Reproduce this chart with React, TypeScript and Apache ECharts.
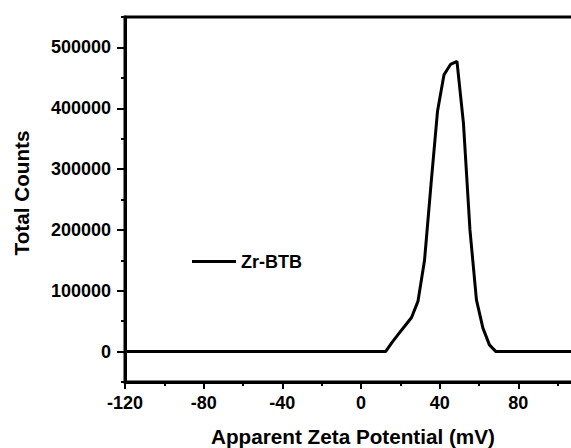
import React, { useEffect, useRef } from "react";
import * as echarts from "echarts";

const zetaMv = [-120, 12.5, 15.8, 19.1, 22.4, 25.7, 29.0, 32.3, 35.6, 38.9, 42.2, 45.5, 48.8, 52.1, 55.4, 58.7, 62.0, 65.3, 68.6, 120];
const totalCounts = [0, 0, 15000, 29000, 42500, 56000, 83000, 150000, 275000, 395000, 455000, 472000, 477000, 375000, 200000, 85000, 38500, 11000, 0, 0];
const seriesName = "Zr-BTB";
const xTitle = "Apparent Zeta Potential (mV)";
const yTitle = "Total Counts";

const FONT = "'Liberation Sans', Arial, sans-serif";

// main plot frame: y from -50000 (bottom) to 550000 (top)
const G_LEFT = 125;
const G_TOP = 17;
const G_BOTTOM = 66;
const G_WIDTH = 472;
const H = 448;
const PX_PER_UNIT = (H - G_TOP - G_BOTTOM) / 600000;

export default function App() {
  const ref = useRef<HTMLDivElement>(null);
  useEffect(() => {
    if (!ref.current) return;
    const chart = echarts.init(ref.current, null, { renderer: "svg" });
    const data = zetaMv.map((x, i) => [x, totalCounts[i]]);
    const tickLine = { color: "#000", width: 2 };
    chart.setOption({
      animation: false,
      backgroundColor: "#fff",
      grid: [
        {
          left: G_LEFT,
          top: G_TOP,
          width: G_WIDTH,
          bottom: G_BOTTOM,
          outerBoundsMode: "none",
          containLabel: false,
          show: true,
          borderColor: "#000",
          borderWidth: 3,
        },
        {
          // overlay frame covering 0..500000 for the major ticks and labels
          left: G_LEFT,
          width: G_WIDTH,
          top: G_TOP + 50000 * PX_PER_UNIT,
          bottom: G_BOTTOM + 50000 * PX_PER_UNIT,
          outerBoundsMode: "none",
          containLabel: false,
          show: false,
        },
      ],
      legend: {
        left: 187,
        top: 247.5,
        itemWidth: 44,
        itemHeight: 3,
        itemGap: 4,
        icon: "rect",
        textStyle: { fontFamily: FONT, fontWeight: "bold", fontSize: 18, color: "#000" },
        data: [{ name: seriesName, icon: "rect", itemStyle: { color: "#000" } }],
      },
      xAxis: [
        {
          type: "value",
          gridIndex: 0,
          min: -120,
          max: 120,
          interval: 40,
          axisLine: { show: true, onZero: false, lineStyle: { color: "#000", width: 3 } },
          axisTick: { show: true, inside: false, length: 7, lineStyle: tickLine },
          minorTick: { show: true, splitNumber: 2, length: 4, lineStyle: tickLine },
          splitLine: { show: false },
          axisLabel: {
            margin: 12,
            color: "#000",
            fontFamily: FONT,
            fontWeight: "bold",
            fontSize: 18,
            formatter: (v: number) => (v > 100 ? "" : String(v)),
          },
        },
        {
          type: "value",
          gridIndex: 1,
          min: -120,
          max: 120,
          show: false,
        },
      ],
      yAxis: [
        {
          type: "value",
          gridIndex: 0,
          min: -50000,
          max: 550000,
          interval: 50000,
          axisLine: { show: true, onZero: false, lineStyle: { color: "#000", width: 3 } },
          axisTick: { show: true, length: 4, lineStyle: tickLine },
          splitLine: { show: false },
          axisLabel: { show: false },
        },
        {
          type: "value",
          gridIndex: 1,
          min: 0,
          max: 500000,
          interval: 100000,
          axisLine: { show: false, onZero: false },
          axisTick: { show: true, length: 8, lineStyle: tickLine },
          splitLine: { show: false },
          axisLabel: {
            margin: 14,
            color: "#000",
            fontFamily: FONT,
            fontWeight: "bold",
            fontSize: 18,
            formatter: (v: number) => String(v),
          },
        },
      ],
      graphic: [
        {
          type: "text",
          x: 353,
          y: 436,
          style: {
            text: xTitle,
            font: `bold 20.7px ${FONT}`,
            fill: "#000",
            align: "center",
            verticalAlign: "middle",
          },
        },
        {
          type: "text",
          x: 21,
          y: 193,
          rotation: Math.PI / 2,
          style: {
            text: yTitle,
            font: `bold 20.7px ${FONT}`,
            fill: "#000",
            align: "center",
            verticalAlign: "middle",
          },
        },
      ],
      series: [
        {
          name: seriesName,
          type: "line",
          data,
          xAxisIndex: 0,
          yAxisIndex: 0,
          symbol: "none",
          lineStyle: { color: "#000", width: 3 },
          itemStyle: { color: "#000" },
        },
      ],
    });
    return () => chart.dispose();
  }, []);
  return (
    <div
      ref={ref}
      style={{ position: "absolute", left: 0, top: 0, width: 571, height: 448 }}
    />
  );
}
